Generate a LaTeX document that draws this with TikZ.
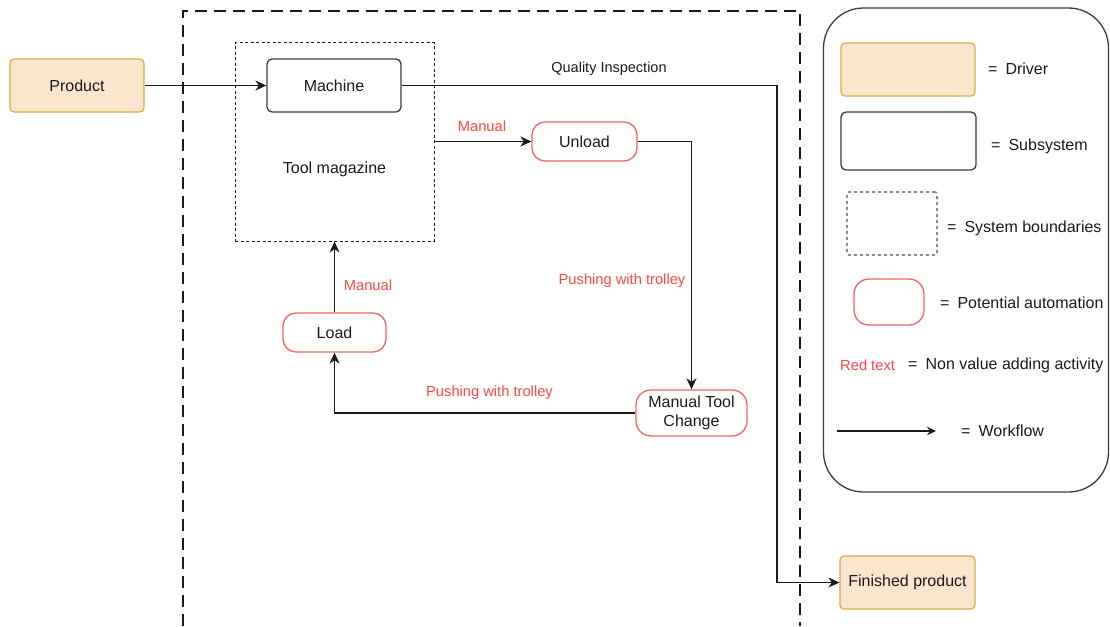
\documentclass[tikz,border=0pt]{standalone}
\usepackage{fontspec}
\setmainfont{Liberation Sans}
\usetikzlibrary{arrows.meta}
\definecolor{drvfill}{HTML}{FCE5CD}
\definecolor{drvline}{HTML}{DDAA44}
\definecolor{autoline}{HTML}{F26262}
\definecolor{redtxt}{HTML}{FF4545}
\definecolor{ink}{HTML}{1A1A1A}
\definecolor{bnd}{HTML}{888888}
\tikzset{
  every node/.style={font=\fontsize{16}{19}\selectfont, text=ink, inner sep=0pt},
  driver/.style={draw=drvline, fill=drvfill, rounded corners=4pt, line width=1.2pt},
  subsys/.style={draw=ink!85, rounded corners=5pt, line width=1.3pt},
  autobox/.style={draw=autoline, rounded corners=13pt, line width=1.3pt},
  bound/.style={draw=ink, line width=1pt, dash pattern=on 3pt off 2.5pt},
  outerbound/.style={draw=ink, line width=1.1pt, dash pattern=on 12pt off 7pt},
  tip/.tip={Stealth[length=11pt,width=10pt,inset=3.5pt]},
  flow/.style={draw=ink, line width=1.4pt, -tip},
  redlbl/.style={text=redtxt, font=\fontsize{14.7}{16}\selectfont},
  blklbl/.style={font=\fontsize{14.5}{16}\selectfont},
}
\begin{document}
\begin{tikzpicture}[x=1pt,y=-1pt]
\useasboundingbox (0,0) rectangle (1110,626);

% system border (open at the bottom)
\draw[outerbound] (183,626) -- (183,11) -- (800,11) -- (800,626);

% main process nodes
\node[driver, minimum width=134pt, minimum height=53pt] (product) at (77,85.5) {Product};
\node[bound, minimum width=199pt, minimum height=198pt] (mag) at (334.5,142) {};
\node (magtext) at (334.5,169) {Tool magazine};
\node[subsys, minimum width=134pt, minimum height=53pt] (machine) at (334,85.5) {Machine};
\node[autobox, minimum width=105pt, minimum height=39pt] (unload) at (584.5,141.5) {Unload};
\node[autobox, rounded corners=15pt, minimum width=111pt, minimum height=46pt, align=center] (mtc) at (691.5,413) {Manual Tool\\Change};
\node[autobox, minimum width=103pt, minimum height=39pt] (load) at (334.5,332.5) {Load};
\node[driver, minimum width=135pt, minimum height=53pt] (finished) at (907.5,582.5) {Finished product};

% workflow connectors
\coordinate (qc) at (777,582.5);
\draw[flow] (product.east) -- (machine.west);
\draw[flow] (machine.east) -| (qc) -- (finished.west);
\draw[flow] (mag.east |- unload.west) -- (unload.west);
\draw[flow] (unload.east) -| (mtc.north);
\draw[flow] (mtc.west) -| (load.south);
\draw[flow] (load.north) -- (mag.south);

% connector labels
\node[blklbl] (lqi) at (609,69) {Quality Inspection};
\node[redlbl] (lm1) at (482,126) {Manual};
\node[redlbl] (lp1) at (622,281) {Pushing with trolley};
\node[redlbl] (lp2) at (489.5,393) {Pushing with trolley};
\node[redlbl] (lm2) at (368,285) {Manual};

% legend
\node[draw=ink!85, line width=1.3pt, rounded corners=40pt, minimum width=285pt, minimum height=484pt] (legend) at (966,250) {};
\node[driver, minimum width=134pt, minimum height=53pt] (kdrv) at (908,69.5) {};
\node[anchor=west] (tdrv) at (988,69) {=\enspace Driver};
\node[subsys, minimum width=135pt, minimum height=58pt] (ksub) at (908.5,141) {};
\node[anchor=west] (tsub) at (991,146) {=\enspace Subsystem};
\node[draw=bnd, line width=1.6pt, dash pattern=on 3pt off 3pt, rounded corners=2pt, minimum width=90pt, minimum height=63pt] (kbnd) at (892,223.5) {};
\node[anchor=west] (tbnd) at (947,228) {=\enspace System boundaries};
\node[autobox, rounded corners=15pt, minimum width=70pt, minimum height=46pt] (kaut) at (889,302) {};
\node[anchor=west] (taut) at (940,303) {=\enspace Potential automation};
\node[redlbl, anchor=west] (kred) at (840,365) {Red text};
\node[anchor=west] (tred) at (908,365) {=\enspace Non value adding activity};
\coordinate (kfa) at (837,431);
\coordinate (kfb) at (936,431);
\draw[draw=ink, line width=1.4pt, -{Stealth[length=9pt,width=8.5pt,inset=3pt]}] (kfa) -- (kfb);
\node[anchor=west] (tflow) at (961,431) {=\enspace Workflow};
\end{tikzpicture}
\end{document}
